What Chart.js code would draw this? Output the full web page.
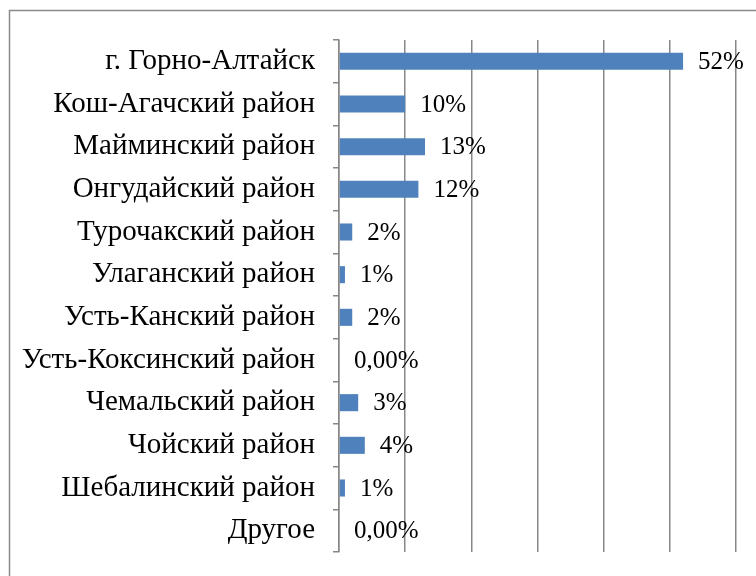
<!DOCTYPE html>
<html>
<head>
<meta charset="utf-8">
<script src="https://cdn.jsdelivr.net/npm/chart.js@4"></script>
<style>
  html, body { margin: 0; padding: 0; background: #fff; }
  #wrap { width: 756px; height: 576px; }
</style>
</head>
<body>
<div id="wrap"><canvas id="barChart" width="756" height="576"></canvas></div>
<script>
const districts = [
    'г. Горно-Алтайск',
    'Кош-Агачский район',
    'Майминский район',
    'Онгудайский район',
    'Турочакский район',
    'Улаганский район',
    'Усть-Канский район',
    'Усть-Коксинский район',
    'Чемальский район',
    'Чойский район',
    'Шебалинский район',
    'Другое'
];
const shares = [0.52, 0.10, 0.13, 0.12, 0.02, 0.009, 0.02, 0, 0.029, 0.039, 0.009, 0];
const shareLabels = ['52%', '10%', '13%', '12%', '2%', '1%', '2%', '0,00%', '3%', '4%', '1%', '0,00%'];

const serif = "'Liberation Serif', 'Times New Roman', serif";

// рамка вокруг диаграммы
const frame = {
    id: 'frame',
    beforeDraw(c) {
        const ctx = c.ctx;
        ctx.save();
        ctx.fillStyle = '#fff';
        ctx.fillRect(0, 0, c.width, c.height);
        ctx.strokeStyle = '#8a8a8a';
        ctx.lineWidth = 1.5;
        ctx.strokeRect(9.5, 10.5, 800, 700);
        ctx.restore();
    }
};

// подписи значений справа от столбцов
const valueLabels = {
    id: 'valueLabels',
    afterDatasetsDraw(c) {
        const ctx = c.ctx;
        const meta = c.getDatasetMeta(0);
        ctx.save();
        ctx.font = '25px ' + serif;
        ctx.fillStyle = '#000';
        ctx.textAlign = 'left';
        ctx.textBaseline = 'middle';
        meta.data.forEach((bar, i) => {
            ctx.fillText(shareLabels[i], bar.x + 15, bar.y + 1);
        });
        ctx.restore();
    }
};

const ctx = document.getElementById('barChart').getContext('2d');
const chart = new Chart(ctx, {
    type: 'bar',
    data: {
        labels: districts,
        datasets: [{
            data: shares,
            backgroundColor: '#4f81bd',
            barPercentage: 0.4,
            categoryPercentage: 1.0
        }]
    },
    options: {
        indexAxis: 'y',
        responsive: false,
        animation: false,
        layout: { padding: { top: 40, right: 20, bottom: 24, left: 0 } },
        plugins: {
            legend: { display: false },
            tooltip: { enabled: false }
        },
        scales: {
            x: {
                min: 0,
                max: 0.6,
                ticks: { display: false, stepSize: 0.1 },
                grid: { color: '#878787', lineWidth: 1.5, drawTicks: false },
                border: { display: false },
                afterFit(scale) {
                    scale.height = 0;
                    scale.paddingLeft = 0;
                    scale.paddingRight = 0;
                }
            },
            y: {
                ticks: {
                    color: '#000',
                    font: { family: serif, size: 29 },
                    padding: 18
                },
                grid: {
                    drawOnChartArea: false,
                    color: '#878787',
                    lineWidth: 1.5,
                    tickLength: 6
                },
                border: { color: '#878787', width: 1.5 },
                afterFit(scale) {
                    scale.width = 339;
                    scale.paddingTop = 0;
                    scale.paddingBottom = 0;
                }
            }
        }
    },
    plugins: [frame, valueLabels]
});
</script>
</body>
</html>
